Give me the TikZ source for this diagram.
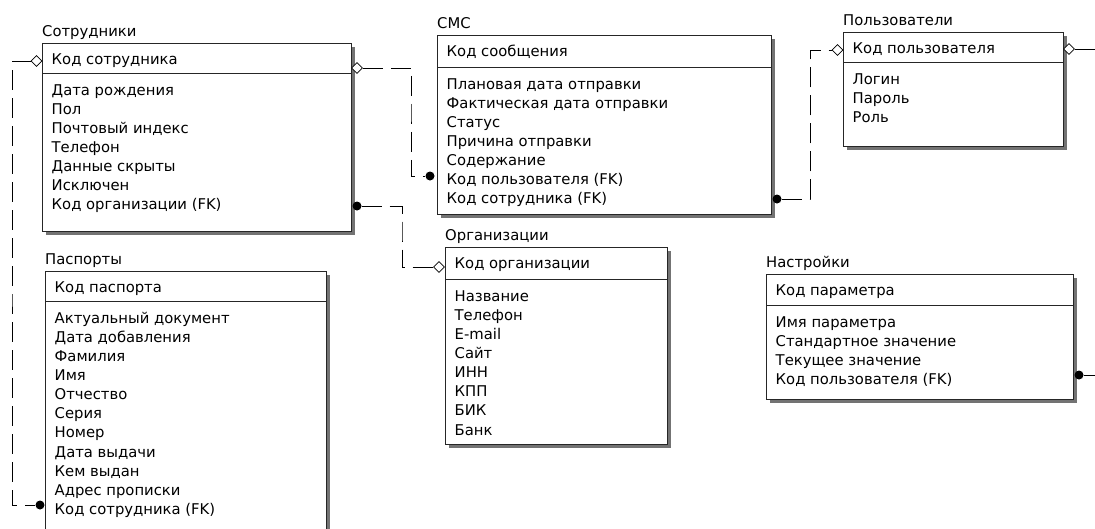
\documentclass[tikz,border=0pt]{standalone}
\usepackage{fontspec}
\setmainfont{DejaVu Sans}
\usetikzlibrary{shapes.geometric}
\tikzset{
  entbox/.style={draw=black!85, line width=1pt, fill=white, inner sep=0pt, outer sep=0pt, anchor=north west},
  entshadow/.style={fill=black!55},
  txt/.style={anchor=base west, inner sep=0pt, font=\fontsize{14.8}{17}\selectfont, text=black},
  rel/.style={line width=1pt, dash pattern=on 20pt off 8pt},
  fkdot/.style={circle, fill=black, inner sep=0pt, minimum size=9pt},
  pkdia/.style={diamond, draw=black, fill=white, inner sep=0pt, minimum width=11pt, minimum height=11pt, line width=0.8pt}
}
% #1 name, #2 x1, #3 y1, #4 x2, #5 y2, #6 header line y, #7 title, #8 key, #9 attributes
\newcommand\erent[9]{%
  \fill[entshadow] (#2+4,#3+4) rectangle (#4+4,#5+4);
  \node[entbox, minimum width=#4-#2, minimum height=#5-#3] (#1) at (#2,#3) {};
  \draw[line width=1pt, draw=black!85] (#2,#6) -- (#4,#6);
  \node[txt] (#1-t) at (#2,#3-6.5) {#7};
  \node[txt] (#1-k) at (#2+9.5,#3+21.5) {#8};
  \foreach \a [count=\i from 0] in {#9} {\node[txt] (#1-a\i) at (#2+9.5,#6+22+\i*19.15) {\a};}
}
\begin{document}
\begin{tikzpicture}[x=1pt,y=-1pt]
\useasboundingbox (0,0) rectangle (1095,528);
\clip (0,0) rectangle (1095,528);

\erent{sotr}{42}{43}{351}{231}{73}{Сотрудники}{Код сотрудника}{Дата рождения, Пол, Почтовый индекс, Телефон, Данные скрыты, Исключен, Код организации (FK)}
\erent{pasp}{45}{271}{326}{570}{301}{Паспорты}{Код паспорта}{Актуальный документ, Дата добавления, Фамилия, Имя, Отчество, Серия, Номер, Дата выдачи, Кем выдан, Адрес прописки, Код сотрудника (FK)}
\erent{sms}{437}{35}{771}{214}{67}{СМС}{Код сообщения}{Плановая дата отправки, Фактическая дата отправки, Статус, Причина отправки, Содержание, Код пользователя (FK), Код сотрудника (FK)}
\erent{org}{445}{247}{667}{444}{279}{Организации}{Код организации}{Название, Телефон, E-mail, Сайт, ИНН, КПП, БИК, Банк}
\erent{polz}{843}{32}{1063}{146}{62}{Пользователи}{Код пользователя}{Логин, Пароль, Роль}
\erent{nast}{766}{274}{1073}{399}{305}{Настройки}{Код параметра}{Имя параметра, Стандартное значение, Текущее значение, Код пользователя (FK)}

% relationship ends
\node[pkdia] (d1) at (36.5,61) {};
\node[fkdot] (f1) at (40,505) {};
\node[pkdia] (d2) at (357,68) {};
\node[fkdot] (f2) at (430,176) {};
\node[fkdot] (f3) at (357,206) {};
\node[pkdia] (d3) at (439,267) {};
\node[fkdot] (f4) at (777,199) {};
\node[pkdia] (d4) at (837.5,50) {};
\node[pkdia] (d5) at (1069,49) {};
\node[fkdot] (f6) at (1079,375) {};

\coordinate (k1) at (12,300);
\coordinate (k2) at (411,120);
\coordinate (k3) at (402,240);
\coordinate (k4) at (810,120);
\coordinate (e5) at (1100,49);
\coordinate (e6) at (1100,375);

\draw[rel] (d1.west) -| (k1) |- (f1.west);
\draw[rel] (d2.east) -| (k2) |- (f2.west);
\draw[rel] (f3.east) -| (k3) |- (d3.west);
\draw[rel] (f4.east) -| (k4) |- (d4.west);
\draw[rel] (d5.east) -- (e5);
\draw[rel] (f6.east) -- (e6);
\end{tikzpicture}
\end{document}
